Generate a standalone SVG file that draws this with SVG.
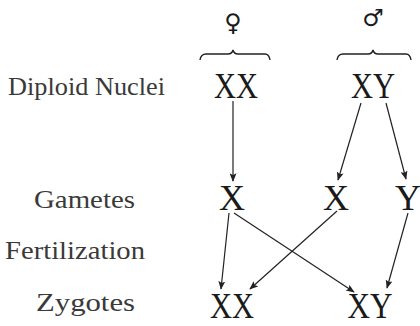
<svg xmlns="http://www.w3.org/2000/svg" width="420" height="326" viewBox="0 0 420 326">
<style>
.lbl{font-family:"Liberation Serif","DejaVu Serif",serif;font-size:26px;fill:#3a3a3a}
.chr{font-family:"Liberation Serif","DejaVu Serif",serif;font-size:36px;fill:#1a1a1a}
.sym{font-family:"DejaVu Sans",sans-serif;font-size:24px;fill:#1a1a1a}
.edge{stroke:#222;stroke-width:1.2;fill:none;marker-end:url(#ah)}
.brace{stroke:#222;stroke-width:1.4;fill:none}
</style>
<defs>
<marker id="ah" viewBox="0 0 10 8" refX="9" refY="4" markerWidth="9" markerHeight="7" markerUnits="userSpaceOnUse" orient="auto">
<path d="M0,0 L10,4 L0,8 L2,4 Z" fill="#222"/>
</marker>
</defs>
<rect width="420" height="326" fill="#fff"/>
<g id="labels">
<text class="lbl" x="8" y="95" textLength="157" lengthAdjust="spacingAndGlyphs">Diploid Nuclei</text>
<text class="lbl" x="34" y="208" textLength="101" lengthAdjust="spacingAndGlyphs">Gametes</text>
<text class="lbl" x="5" y="259" textLength="140" lengthAdjust="spacingAndGlyphs">Fertilization</text>
<text class="lbl" x="36" y="311" textLength="99" lengthAdjust="spacingAndGlyphs">Zygotes</text>
</g>
<g id="female">
<text class="sym" x="233" y="31" text-anchor="middle">♀</text>
<path class="brace" d="M200,60 Q201,54 206,54 L228,54 Q232,54 233,50 Q234,54 238,54 L265,54 Q269,54 270,60"/>
</g>
<g id="male">
<text class="sym" x="373" y="26" text-anchor="middle">♂</text>
<path class="brace" d="M337,60 Q338,54 343,54 L368,54 Q372,54 373,50 Q374,54 378,54 L406,54 Q410,54 411,60"/>
</g>
<g id="n-female-xx"><text class="chr" x="236" y="98" text-anchor="middle" textLength="44" lengthAdjust="spacingAndGlyphs">XX</text></g>
<g id="n-male-xy"><text class="chr" x="373" y="98" text-anchor="middle" textLength="44" lengthAdjust="spacingAndGlyphs">XY</text></g>
<g id="n-gam-x1"><text class="chr" x="232" y="210" text-anchor="middle">X</text></g>
<g id="n-gam-x2"><text class="chr" x="336" y="210" text-anchor="middle">X</text></g>
<g id="n-gam-y"><text class="chr" x="408" y="210" text-anchor="middle">Y</text></g>
<g id="n-zyg-xx"><text class="chr" x="232" y="318" text-anchor="middle" textLength="44" lengthAdjust="spacingAndGlyphs">XX</text></g>
<g id="n-zyg-xy"><text class="chr" x="370" y="318" text-anchor="middle" textLength="45" lengthAdjust="spacingAndGlyphs">XY</text></g>
<g id="connectors">
<line class="edge" x1="233" y1="101" x2="233" y2="181"/>
<line class="edge" x1="361" y1="103" x2="338" y2="180"/>
<line class="edge" x1="386" y1="103" x2="406" y2="179"/>
<line class="edge" x1="229" y1="213" x2="221" y2="289"/>
<line class="edge" x1="234" y1="213" x2="354" y2="292"/>
<line class="edge" x1="337" y1="211" x2="250" y2="289"/>
<line class="edge" x1="408" y1="213" x2="387" y2="288"/>
</g>
</svg>
